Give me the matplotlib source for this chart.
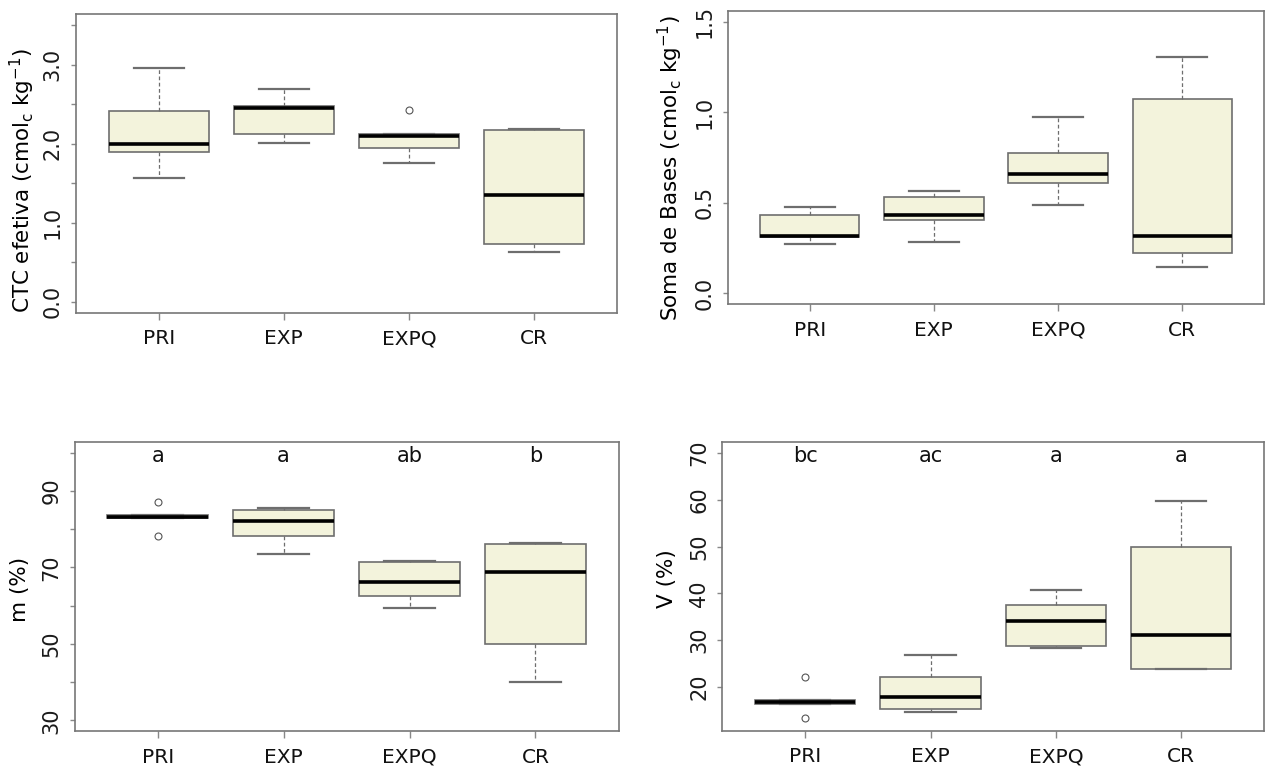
import matplotlib.pyplot as plt

# Tratamentos
grupos = ['PRI', 'EXP', 'EXPQ', 'CR']

# CTC efetiva (cmolc/kg): limite inferior, Q1, mediana, Q3, limite superior
ctc_lo = [1.56, 2.01, 1.75, 0.63]
ctc_q1 = [1.89, 2.12, 1.95, 0.73]
ctc_med = [1.99, 2.45, 2.09, 1.35]
ctc_q3 = [2.41, 2.48, 2.12, 2.17]
ctc_hi = [2.96, 2.69, 2.12, 2.19]
ctc_out = [[], [], [2.43], []]

# Soma de bases (cmolc/kg)
sb_lo = [0.27, 0.285, 0.485, 0.147]
sb_q1 = [0.31, 0.406, 0.607, 0.224]
sb_med = [0.316, 0.434, 0.658, 0.316]
sb_q3 = [0.434, 0.533, 0.774, 1.074]
sb_hi = [0.474, 0.565, 0.975, 1.306]
sb_out = [[], [], [], []]

# Saturação por alumínio m (%)
m_lo = [82.8, 73.5, 59.4, 40.1]
m_q1 = [82.8, 78.1, 62.5, 50.0]
m_med = [83.3, 82.2, 66.2, 68.9]
m_q3 = [83.7, 85.0, 71.3, 76.2]
m_hi = [83.7, 85.6, 71.8, 76.3]
m_out = [[87.0, 78.2], [], [], []]
m_letras = ['a', 'a', 'ab', 'b']

# Saturação por bases V (%)
v_lo = [16.3, 14.65, 28.3, 23.85]
v_q1 = [16.3, 15.3, 28.8, 23.85]
v_med = [16.7, 17.9, 34.0, 31.0]
v_q3 = [17.2, 22.1, 37.4, 50.0]
v_hi = [17.2, 26.7, 40.7, 59.7]
v_out = [[22.0, 13.3], [], [], []]
v_letras = ['bc', 'ac', 'a', 'a']

cor_caixa = '#f3f3dc'
cor_borda = '#6e6e6e'
fonte_y = 'DejaVu Sans'


def caixas(ax, lo, q1, med, q3, hi, out):
    stats = []
    for i in range(len(grupos)):
        stats.append(dict(whislo=lo[i], q1=q1[i], med=med[i], q3=q3[i],
                          whishi=hi[i], fliers=out[i]))
    ax.bxp(stats, positions=range(1, len(grupos) + 1), widths=0.8,
           patch_artist=True, showfliers=True,
           boxprops=dict(facecolor=cor_caixa, edgecolor=cor_borda, linewidth=1.2),
           medianprops=dict(color='black', linewidth=2.6, solid_capstyle='butt'),
           whiskerprops=dict(color=cor_borda, linewidth=0.9, linestyle=(0, (3, 2))),
           capprops=dict(color=cor_borda, linewidth=1.6),
           capwidths=0.4,
           flierprops=dict(marker='o', markerfacecolor='none',
                           markeredgecolor='#555555', markersize=5,
                           markeredgewidth=0.8))
    ax.set_xlim(0.34, 4.66)
    ax.set_xticks(range(1, len(grupos) + 1))
    ax.set_xticklabels(grupos, fontsize=14.5, family='DejaVu Sans', color='#111111')
    ax.tick_params(axis='x', length=5, width=1, color='#888888', pad=7)
    ax.tick_params(axis='y', length=3.6, width=1, color='#888888', pad=6)
    for s in ax.spines.values():
        s.set_color('#777777')
        s.set_linewidth(1.2)


def eixo_y(ax, ticks, rotulos, lim):
    lo, hi = lim
    d = (hi - lo) * 0.04
    ax.set_ylim(lo - d, hi + d)
    ax.set_yticks(ticks)
    ax.set_yticklabels(rotulos, fontsize=15, family=fonte_y, color='#1a1a1a')
    for lab in ax.get_yticklabels():
        lab.set_rotation(90)
        lab.set_va('center')


fig = plt.figure(figsize=(12.65, 7.69), dpi=100)

ax1 = fig.add_axes([0.0601, 0.5934, 0.4274, 0.3884])
ax2 = fig.add_axes([0.5753, 0.6047, 0.4240, 0.3814])
ax3 = fig.add_axes([0.0589, 0.0494, 0.4301, 0.3758])
ax4 = fig.add_axes([0.5711, 0.0498, 0.4281, 0.3750])

caixas(ax1, ctc_lo, ctc_q1, ctc_med, ctc_q3, ctc_hi, ctc_out)
eixo_y(ax1, [0, 0.5, 1, 1.5, 2, 2.5, 3, 3.5],
       ['0.0', '', '1.0', '', '2.0', '', '3.0', ''], (0, 3.5))
ax1.text(-0.100, 0.441, r'CTC efetiva (cmol$_\mathregular{c}$ kg$^\mathregular{-1}$)',
         transform=ax1.transAxes, rotation=90, ha='center', va='center',
         fontsize=15.5, family=fonte_y)

caixas(ax2, sb_lo, sb_q1, sb_med, sb_q3, sb_hi, sb_out)
eixo_y(ax2, [0, 0.5, 1, 1.5], ['0.0', '0.5', '1.0', '1.5'], (0, 1.5))
ax2.text(-0.1076, 0.4637, r'Soma de Bases (cmol$_\mathregular{c}$ kg$^\mathregular{-1}$)',
         transform=ax2.transAxes, rotation=90, ha='center', va='center',
         fontsize=15.5, family=fonte_y)

caixas(ax3, m_lo, m_q1, m_med, m_q3, m_hi, m_out)
eixo_y(ax3, [30, 40, 50, 60, 70, 80, 90, 100],
       ['30', '', '50', '', '70', '', '90', ''], (30, 100))
ax3.text(-0.0994, 0.491, 'm (%)', transform=ax3.transAxes, rotation=90,
         ha='center', va='center', fontsize=15.5, family=fonte_y)
for i, letra in enumerate(m_letras):
    ax3.text(i + 1, 99.1, letra, ha='center', va='center', fontsize=15,
             family='DejaVu Sans', color='#111111')

caixas(ax4, v_lo, v_q1, v_med, v_q3, v_hi, v_out)
eixo_y(ax4, [20, 30, 40, 50, 60, 70], ['20', '30', '40', '50', '60', '70'],
       (12.9, 70))
ax4.text(-0.102, 0.529, 'V (%)', transform=ax4.transAxes, rotation=90,
         ha='center', va='center', fontsize=15.5, family=fonte_y)
for i, letra in enumerate(v_letras):
    ax4.text(i + 1, 69.3, letra, ha='center', va='center', fontsize=15,
             family='DejaVu Sans', color='#111111')

fig.savefig('out.png', dpi=100)
